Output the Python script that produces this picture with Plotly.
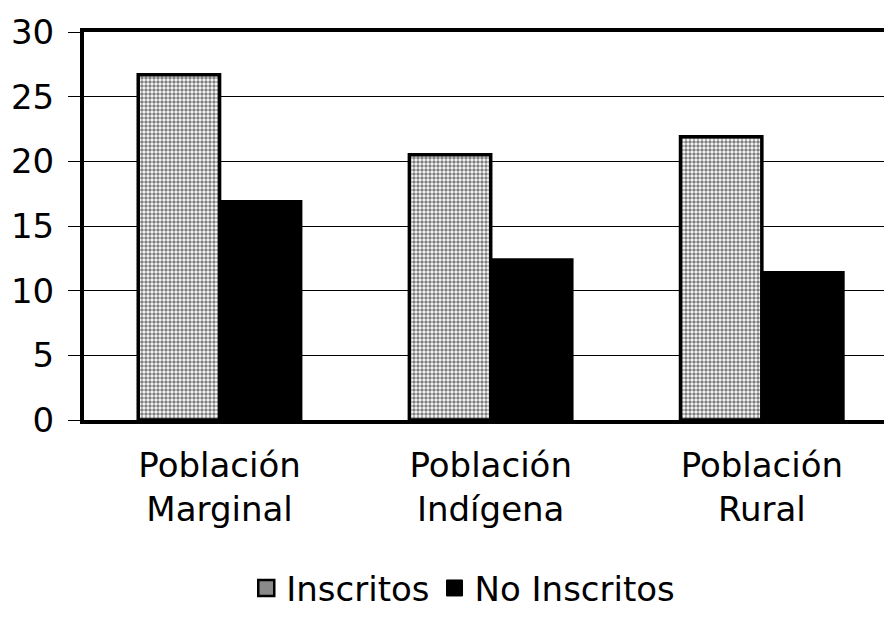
import plotly.graph_objects as go

categories = ["Población<br>Marginal", "Población<br>Indígena", "Población<br>Rural"]
inscritos = [26.7, 20.5, 21.9]
no_inscritos = [16.9, 12.4, 11.4]
y_ticks = [0, 5, 10, 15, 20, 25, 30]
series_names = ["Inscritos", "No Inscritos"]

x_pos = list(range(len(categories)))
font_family = "DejaVu Sans, Verdana, sans-serif"

fig = go.Figure()
fig.add_trace(go.Bar(
    x=x_pos, y=inscritos, name=series_names[0], showlegend=False,
    marker=dict(color="white", line=dict(color="black", width=3.5),
                pattern=dict(shape=".", fgcolor="black", bgcolor="white",
                             size=4, solidity=0.6)),
))
fig.add_trace(go.Bar(
    x=x_pos, y=no_inscritos, name=series_names[1], showlegend=False,
    marker=dict(color="black", line=dict(color="black", width=3)),
))
# legend entries with larger square swatches
fig.add_trace(go.Scatter(
    x=[None], y=[None], mode="markers", name=series_names[0],
    marker=dict(symbol="square", size=21, color="#8a8a8a",
                line=dict(color="black", width=2.5)),
))
fig.add_trace(go.Scatter(
    x=[None], y=[None], mode="markers", name=series_names[1],
    marker=dict(symbol="square", size=21, color="black",
                line=dict(color="black", width=1)),
))

fig.update_layout(
    width=884, height=609,
    paper_bgcolor="white", plot_bgcolor="white",
    margin=dict(l=76, r=0, t=24, b=197, autoexpand=False),
    barmode="group", bargap=0.4, bargroupgap=0,
    font=dict(family=font_family, size=34, color="black"),
    showlegend=True,
    legend=dict(orientation="h", xref="container", yref="container",
                x=0.515, xanchor="center", y=0.047, yanchor="middle",
                font=dict(size=34), itemwidth=30, traceorder="normal",
                tracegroupgap=0),
)
fig.update_xaxes(
    tickmode="array", tickvals=x_pos, ticktext=categories,
    range=[-0.5, 2.48], showgrid=False, automargin=False,
    showline=True, linewidth=4, linecolor="black", mirror=True,
    ticks="", ticklabelstandoff=12,
)
fig.update_yaxes(
    range=[0, 30], tickvals=y_ticks, showgrid=True, automargin=False,
    gridcolor="black", gridwidth=1,
    showline=True, linewidth=4, linecolor="black", mirror=False,
    ticks="outside", ticklen=12, tickcolor="black", tickwidth=1,
    zeroline=False, ticklabelstandoff=7,
)
fig.write_html("out.html")
